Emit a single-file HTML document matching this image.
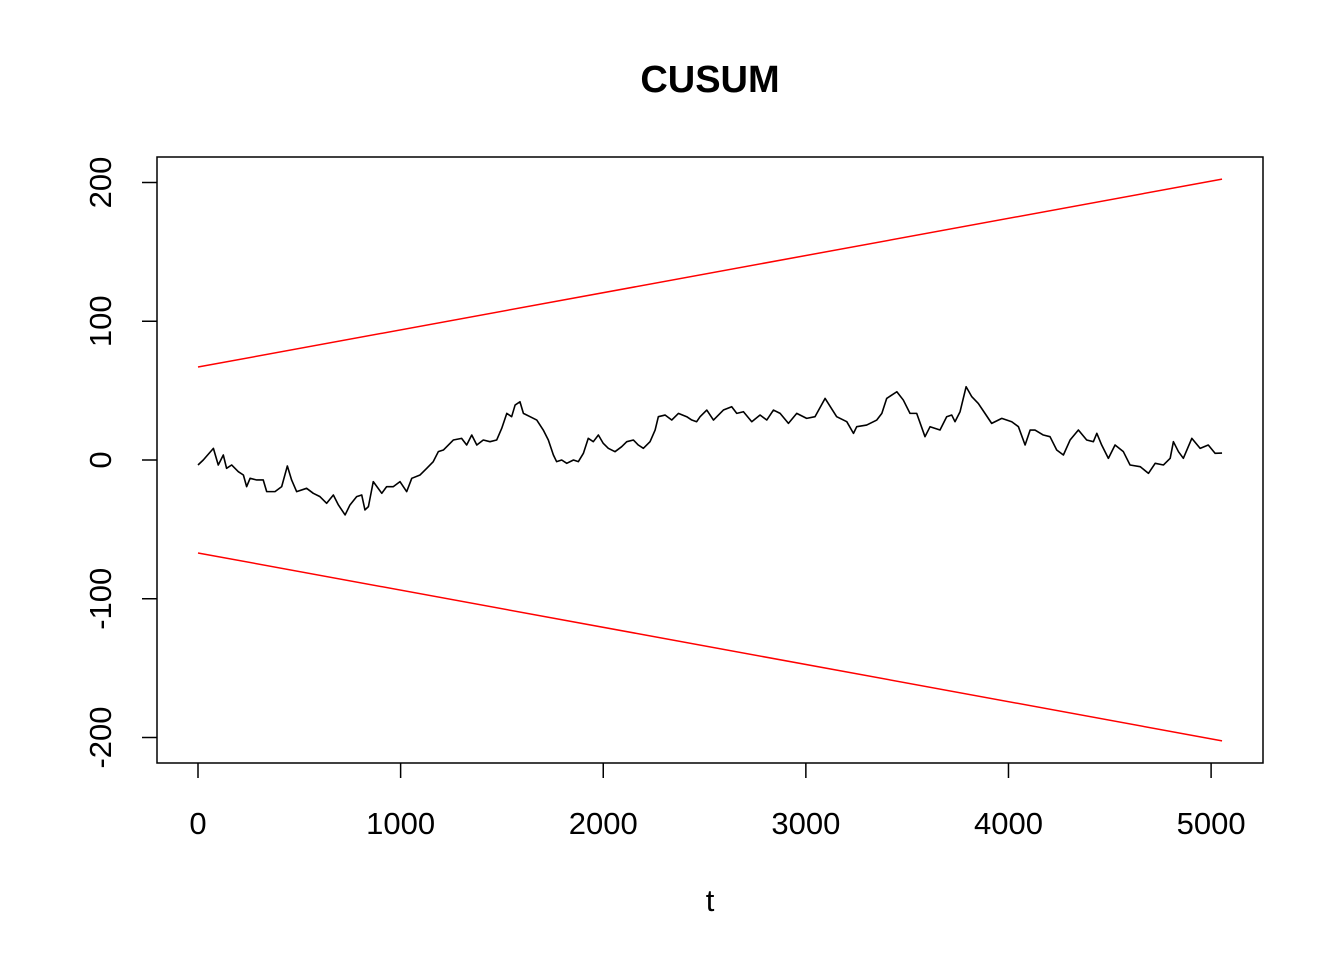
<!DOCTYPE html>
<html><head><meta charset="utf-8"><style>
body{margin:0;background:#fff}
svg{display:block;font-family:"Liberation Sans",Arial,sans-serif}
</style></head><body>
<svg id="chart" width="1344" height="960" viewBox="0 0 1344 960">
<rect width="1344" height="960" fill="#fff"/>
<text x="710" y="92" text-anchor="middle" font-size="38" font-weight="bold">CUSUM</text>
<rect x="157" y="157" width="1106" height="606" fill="none" stroke="#000" stroke-width="1.5"/>
<text x="710" y="911" text-anchor="middle" font-size="31">t</text>
<g id="axes"></g>
<g id="marks"></g>
</svg>
<script>
const xTicks=[0,1000,2000,3000,4000,5000];
const yTicks=[-200,-100,0,100,200];
const boundT=[0,5054];
const upperBound=[67,202.4];
const lowerBound=[-67,-202.4];
const cusumT=[0,26,76,100,125,141,166,199,224,240,257,290,322,339,380,413,441,462,487,536,569,602,635,668,693,726,750,783,808,824,841,865,907,931,964,997,1030,1055,1096,1129,1161,1186,1211,1260,1301,1326,1351,1376,1408,1441,1474,1499,1524,1548,1565,1589,1606,1639,1672,1704,1729,1754,1770,1795,1820,1853,1877,1902,1926,1951,1976,2000,2025,2058,2091,2116,2149,2173,2198,2231,2256,2272,2305,2338,2371,2412,2437,2461,2478,2511,2544,2593,2634,2659,2692,2733,2774,2807,2840,2873,2914,2955,3004,3045,3095,3152,3202,3235,3251,3300,3350,3375,3399,3449,3481,3514,3547,3588,3613,3662,3695,3720,3736,3761,3791,3819,3851,3884,3917,3967,4016,4049,4082,4107,4131,4172,4205,4238,4271,4304,4345,4386,4419,4436,4460,4493,4526,4567,4600,4650,4691,4724,4765,4798,4814,4839,4863,4905,4946,4986,5020,5054];
const cusumV=[-3.6,0,8.4,-3.6,3.6,-6,-3.6,-8.4,-10.8,-19.2,-13.2,-14.4,-14.4,-22.8,-22.8,-19.2,-4.3,-14.4,-22.8,-20.4,-24,-26.4,-31.2,-25.2,-32.4,-39.6,-32.4,-26.4,-25.2,-36,-33.6,-15.6,-24,-19.2,-19.2,-15.6,-22.8,-13.2,-10.8,-6,-1.2,6,7.2,14.4,15.6,10.8,18,10.8,14.4,13.2,14.4,22.8,33.6,31.2,39.6,42,33.6,31.2,28.8,21.6,14.4,3.6,-1.2,0,-2.4,0,-1.2,4.8,15.6,13.2,18,12,8.4,6,9.6,13.2,14.4,10.8,8.4,13.2,21.6,31.2,32.4,28.8,33.6,31.2,28.8,27.6,31.2,36,28.8,36,38.4,33.6,34.8,27.6,32.4,28.8,36,33.6,26.4,33.6,30,31.2,44.4,31.2,27.6,19.2,24,25.2,28.8,33.6,44.4,49.2,43.2,33.6,33.6,16.8,24,21.6,31.2,32.4,27.6,34.8,52.8,45.6,40.8,33.6,26.4,30,27.6,24,10.8,21.6,21.6,18,16.8,7.2,3.6,14.4,21.6,14.4,13.2,19.2,10.8,1.2,10.8,6,-3.6,-4.8,-9.6,-2.4,-3.6,1.2,13.2,6,1.2,15.6,8.4,10.8,4.8,5];
const NS='http://www.w3.org/2000/svg';
const xs=t=>198+t*0.20262;
const ys=v=>460-v*1.3875;
const axes=document.getElementById('axes'),marks=document.getElementById('marks');
function mk(tag,attrs,parent){const e=document.createElementNS(NS,tag);for(const k in attrs)e.setAttribute(k,attrs[k]);parent.appendChild(e);return e;}
xTicks.forEach(t=>{
  const l=mk('line',{x1:xs(t),x2:xs(t),y1:763,y2:778,stroke:'#000','stroke-width':1.5},axes);
  
  
  const tx=mk('text',{x:xs(t),y:834,'text-anchor':'middle','font-size':31},axes);
  tx.textContent=t;
  
  
});
yTicks.forEach(v=>{
  const l=mk('line',{x1:142,x2:157,y1:ys(v),y2:ys(v),stroke:'#000','stroke-width':1.5},axes);
  
  
  const tx=mk('text',{x:0,y:0,'text-anchor':'middle','font-size':31,transform:`translate(111,${ys(v)}) rotate(-90)`},axes);
  tx.textContent=v;
  
  
});
const up=mk('polyline',{points:boundT.map((t,i)=>xs(t)+','+ys(upperBound[i])).join(' '),fill:'none',stroke:'#f00','stroke-width':1.5},marks);


const lo=mk('polyline',{points:boundT.map((t,i)=>xs(t)+','+ys(lowerBound[i])).join(' '),fill:'none',stroke:'#f00','stroke-width':1.5},marks);


const cs=mk('polyline',{points:cusumT.map((t,i)=>xs(t)+','+ys(cusumV[i])).join(' '),fill:'none',stroke:'#000','stroke-width':1.6,'stroke-linejoin':'round'},marks);


</script>
</body></html>
